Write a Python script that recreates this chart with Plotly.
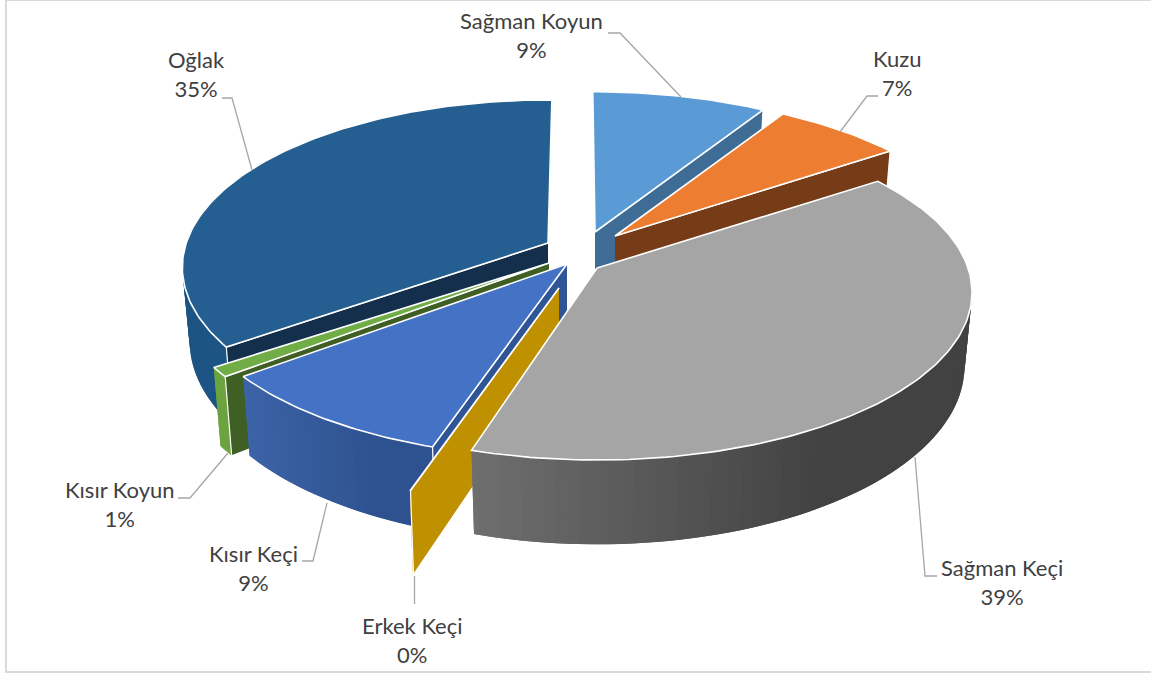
"""
plot.py
Exploded 3D-style pie of herd composition, drawn as projected polygons.
"""

import numpy as np
import plotly.graph_objects as go


# ── Data ──────────────────────────────────────────────────────────────────────

CATEGORIES = ["Sağman Koyun", "Kuzu", "Sağman Keçi", "Erkek Keçi", "Kısır Keçi", "Kısır Koyun", "Oğlak"]
VALUES = [8.7, 6.6, 39.4, 0.3, 9.4, 0.9, 34.7]

# ── Look of each slice (same order as the categories) ─────────────────────────

TOP_COLORS = ["#5b9bd5", "#ed7d31", "#a5a5a5", "#bf9000", "#4472c4", "#70ad47", "#255e91"]
CUT_COLORS = ["#3e6c94", "#763c17", "#7c7c7c", "#bf9000", "#2f5597", "#3f5f24", "#132f4c"]
SIDE_LEFT = ["#3e6c94", "#763c17", "#6f6f6f", "#bf9000", "#3d63a8", "#6ba43f", "#1c5483"]
SIDE_RIGHT = ["#3e6c94", "#763c17", "#424242", "#bf9000", "#2e5290", "#6ba43f", "#1c5483"]
APEX_X = [595, 615, 597, 559, 567, 549, 548]
APEX_Y = [232, 236, 268, 288, 264, 263, 243]
RADIUS_SCALE = [0.98, 0.98, 1.0, 1.12, 1.01, 1.02, 1.0]
WIDTH_SCALE = [1, 1, 1, 1, 1, 0.99, 0.975]
START_NUDGE = [-0.4, 0, 0, 1, 0, 0, -0.6]
END_NUDGE = [0, 0, 0, 0, 0, 0, 0.7]

LABEL_X = [531, 897, 1002, 412, 253, 120, 196]
LABEL_Y = [35, 73, 582, 640, 568, 504, 74]
LEADERS = [
    [(608, 33), (620, 33), (681, 97)],
    [(878, 96), (867, 96), (840, 132)],
    [(937, 576), (925, 576), (915, 457)],
    [(414.5, 576), (414.5, 604)],
    [(302, 561), (313, 561), (327, 503)],
    [(178, 498), (190, 498), (228, 453)],
    [(222, 98), (232, 98), (252, 170)],
]

# Projection of the pie disc onto the page
RX, RY = 371, 164
PERSPECTIVE = 0.146
DEPTH = 72
BASE_SHRINK = 0.98


# ── Geometry helpers ──────────────────────────────────────────────────────────

def top_point(i, deg):
    a = np.radians(deg)
    s = RADIUS_SCALE[i] / (1 + PERSPECTIVE * np.cos(a))
    return APEX_X[i] + RX * WIDTH_SCALE[i] * np.sin(a) * s, APEX_Y[i] - RY * np.cos(a) * s


def base_point(i, deg):
    x, y = top_point(i, deg)
    s = 1 / (1 + PERSPECTIVE * np.cos(np.radians(deg)))
    return APEX_X[i] + (x - APEX_X[i]) * BASE_SHRINK, y + DEPTH * s


def mix(c1, c2, t):
    a = [int(c1[k:k + 2], 16) for k in (1, 3, 5)]
    b = [int(c2[k:k + 2], 16) for k in (1, 3, 5)]
    return "rgb(%d,%d,%d)" % tuple(round(p + (q - p) * t) for p, q in zip(a, b))


def polygon(fig, xs, ys, color, name, line_color=None, line_width=0.0):
    fig.add_trace(go.Scatter(
        x=xs, y=ys, mode="lines", fill="toself", fillcolor=color,
        line=dict(color=line_color or color, width=line_width),
        name=name, hoverinfo="skip", showlegend=False,
    ))


def draw_side(fig, i, start, end):
    angles = np.arange(start, end + 1.5, 1.5)
    angles = np.clip(angles, start, end)
    angles = angles[np.cos(np.radians(angles)) < 0.1]
    if len(angles) < 2:
        return
    top_x = [top_point(i, a)[0] for a in angles]
    x_min, x_max = min(top_x), max(top_x)
    # strips overlap the next one, so no seams show between them
    for k in range(len(angles) - 1):
        a0, a1 = angles[k], angles[min(k + 2, len(angles) - 1)]
        p = [top_point(i, a0), top_point(i, a1), base_point(i, a1), base_point(i, a0)]
        t = min(1, (p[0][0] - x_min) / max(x_max - x_min, 1) * 1.4)
        color = mix(SIDE_LEFT[i], SIDE_RIGHT[i], t)
        polygon(fig, [q[0] for q in p], [q[1] for q in p], color, CATEGORIES[i])


def draw_cut(fig, i, deg):
    ax, ay = APEX_X[i], APEX_Y[i]
    p = [(ax, ay), top_point(i, deg), base_point(i, deg), (ax, ay + DEPTH)]
    polygon(fig, [q[0] for q in p], [q[1] for q in p], CUT_COLORS[i], CATEGORIES[i],
            line_color="#ffffff", line_width=1.2)


def draw_top(fig, i, start, end):
    angles = np.linspace(start, end, max(int(end - start), 2) + 1)
    pts = [top_point(i, a) for a in angles]
    xs = [APEX_X[i]] + [q[0] for q in pts] + [APEX_X[i]]
    ys = [APEX_Y[i]] + [q[1] for q in pts] + [APEX_Y[i]]
    polygon(fig, xs, ys, TOP_COLORS[i], CATEGORIES[i], line_color="#ffffff", line_width=1.6)


# ── Figure ────────────────────────────────────────────────────────────────────

edges = np.concatenate([[0], np.cumsum(VALUES)]) * 3.6
fig = go.Figure()

# back to front, so nearer slices cover the hidden parts of farther ones
for i in [6, 0, 1, 5, 4, 3, 2]:
    start, end = edges[i] + START_NUDGE[i], edges[i + 1] + END_NUDGE[i]
    draw_side(fig, i, start, end)
    if start > 180:
        draw_cut(fig, i, start)
    elif end < 180:
        draw_cut(fig, i, end)
    draw_top(fig, i, start, end)

for points in LEADERS:
    fig.add_trace(go.Scatter(
        x=[p[0] for p in points], y=[p[1] for p in points], mode="lines",
        line=dict(color="#a6a6a6", width=1.3), hoverinfo="skip", showlegend=False,
    ))

for name, value, lx, ly in zip(CATEGORIES, VALUES, LABEL_X, LABEL_Y):
    fig.add_annotation(
        x=lx, y=ly, text=f"{name}<br>{value:.0f}%", showarrow=False,
        xanchor="center", yanchor="middle",
        font=dict(family="Lato, sans-serif", size=22, color="#404040"),
    )

fig.add_shape(type="rect", x0=6, y0=0, x1=1160, y1=672,
              line=dict(color="#d9d9d9", width=2), layer="below")

fig.update_xaxes(range=[0, 1151], visible=False)
fig.update_yaxes(range=[673, 0], visible=False)
fig.update_layout(
    width=1151, height=673,
    margin=dict(l=0, r=0, t=0, b=0),
    paper_bgcolor="#ffffff", plot_bgcolor="#ffffff",
)

fig.write_html(
    "out.html",
    config={"displayModeBar": False},
    post_script="document.body.style.margin='0';document.body.style.overflow='hidden';",
)
